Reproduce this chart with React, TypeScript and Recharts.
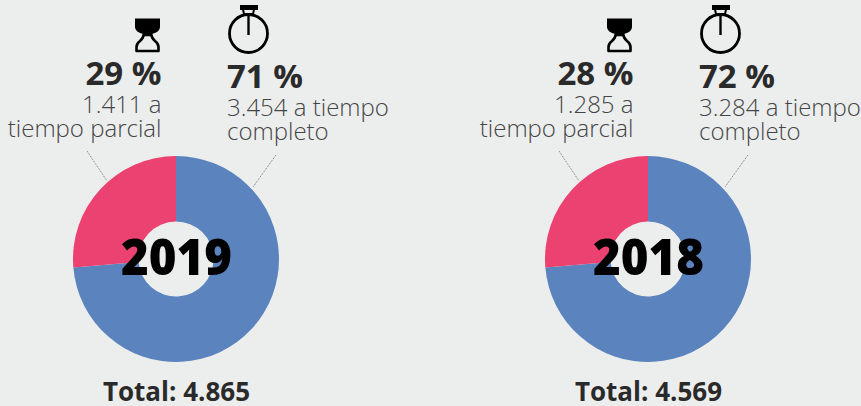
import React from "react";
import { PieChart, Pie, Cell } from "recharts";

const years = ["2019", "2018"];
const fullShare = [73.7, 73.7];
const partShare = [26.3, 26.3];
const fullLabels = ["3.454 a tiempo", "3.284 a tiempo"];
const partLabels = ["1.411 a", "1.285 a"];
const fullPct = ["71 %", "72 %"];
const partPct = ["29 %", "28 %"];
const totals = ["Total: 4.865", "Total: 4.569"];
const colors = ["#5B83BD", "#EC4272"];

const W = 861;
const H = 406;
const centers = [176, 648];
const FONT = "'Open Sans', sans-serif";

function Hourglass() {
  return (
    <g>
      <path d="M135 18.5 H160 V27 Q160 32 152 34 H143 Q135 32 135 27 Z" fill="#000" />
      <path
        d="M143.5 35 H151.5 Q151.5 38 155 41 Q158.5 43.5 158.5 47 V51 H136.5 V47 Q136.5 43.5 140 41 Q143.5 38 143.5 35 Z"
        fill="none"
        stroke="#000"
        strokeWidth={2.6}
        strokeLinejoin="round"
      />
    </g>
  );
}

function Stopwatch() {
  return (
    <g fill="none" stroke="#000">
      <circle cx={248.5} cy={33.5} r={19} strokeWidth={2.8} />
      <line x1={248.5} y1={14} x2={248.5} y2={35} strokeWidth={2.4} />
      <rect x={240.5} y={5.5} width={17} height={4} fill="#000" strokeWidth={1} />
      <path d="M243 9.5 L244 14 H253 L254 9.5" strokeWidth={2} />
    </g>
  );
}

function Panel({ i }: { i: number }) {
  const dx = centers[i] - centers[0];
  const rightX = 161.5;
  const leftX = 227;
  const dark = "#2B2A2A";
  const light = "#454545";
  return (
    <g transform={`translate(${dx},0)`} fontFamily={FONT}>
      <Hourglass />
      <Stopwatch />
      <text x={rightX} y={85} textAnchor="end" fontSize={33} fontWeight={700} fill={dark}>{partPct[i]}</text>
      <text x={rightX} y={113} textAnchor="end" fontSize={24} fontWeight={300} fill={light}>{partLabels[i]}</text>
      <text x={rightX} y={137} textAnchor="end" fontSize={24} fontWeight={300} fill={light}>tiempo parcial</text>
      <text x={leftX} y={88} textAnchor="start" fontSize={33} fontWeight={700} fill={dark}>{fullPct[i]}</text>
      <text x={leftX} y={116} textAnchor="start" fontSize={24} fontWeight={300} fill={light}>{fullLabels[i]}</text>
      <text x={leftX} y={140} textAnchor="start" fontSize={24} fontWeight={300} fill={light}>completo</text>
      <line x1={87} y1={151} x2={107} y2={181} stroke="#555" strokeWidth={0.8} strokeDasharray="1 1" />
      <line x1={276} y1={155} x2={253} y2={187} stroke="#555" strokeWidth={0.8} strokeDasharray="1 1" />
      <text x={121} y={275} textAnchor="start" fontSize={50} fontWeight={800} fill="#000" textLength={111} lengthAdjust="spacingAndGlyphs">{years[i]}</text>
      <text x={176.5} y={401} textAnchor="middle" fontSize={26} fontWeight={700} fill={dark}>{totals[i]}</text>
    </g>
  );
}

export default function App() {
  const tables = years.map((_, i) => [
    { name: "tiempo completo", value: fullShare[i] },
    { name: "tiempo parcial", value: partShare[i] },
  ]);
  return (
    <div style={{ position: "absolute", left: 0, top: 0, width: W, height: H, background: "#ECEEEE", overflow: "hidden" }}>
      <PieChart width={W} height={H} margin={{ top: 0, right: 0, bottom: 0, left: 0 }}>
        {tables.map((t, i) => (
          <Pie
            key={years[i]}
            data={t}
            dataKey="value"
            nameKey="name"
            cx={centers[i]}
            cy={259}
            innerRadius={37.5}
            outerRadius={103}
            startAngle={90}
            endAngle={-270}
            stroke="none"
            isAnimationActive={false}
          >
            {t.map((d, j) => (
              <Cell key={d.name} fill={colors[j]} />
            ))}
          </Pie>
        ))}
      </PieChart>
      <svg width={W} height={H} style={{ position: "absolute", left: 0, top: 0, pointerEvents: "none" }}>
        <Panel i={0} />
        <Panel i={1} />
      </svg>
    </div>
  );
}
